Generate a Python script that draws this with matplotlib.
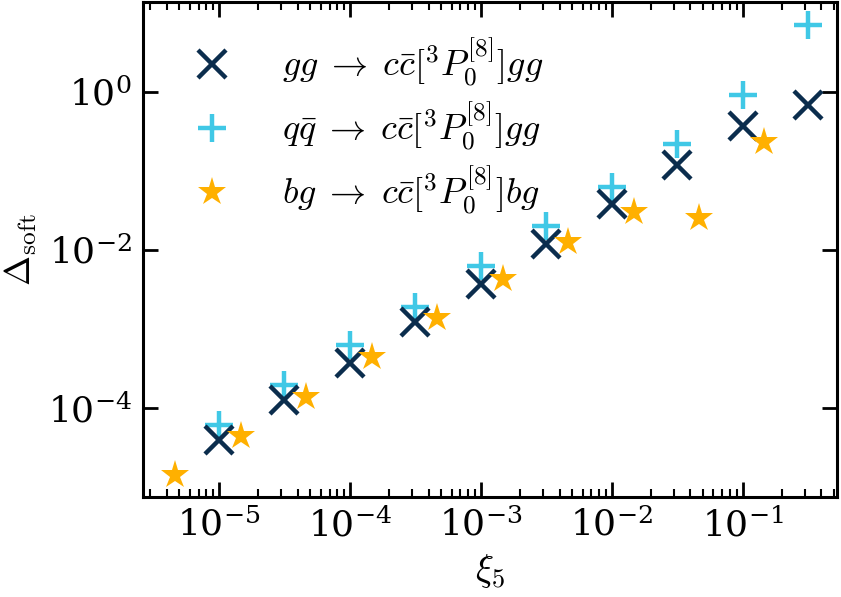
import matplotlib
matplotlib.use("Agg")
import matplotlib.pyplot as plt
from matplotlib.ticker import LogLocator, NullLocator, NullFormatter, FixedLocator

plt.rcParams['mathtext.fontset'] = 'cm'
plt.rcParams['font.family'] = ['DejaVu Serif']
plt.rcParams['axes.unicode_minus'] = False

# x values
xi_main = [1e-5, 3.16e-5, 1e-4, 3.16e-4, 1e-3, 3.16e-3, 1e-2, 3.16e-2, 1e-1, 3.16e-1]
xi_bg = [4.64e-6, 1.47e-5, 4.64e-5, 1.47e-4, 4.64e-4, 1.47e-3, 4.64e-3, 1.47e-2, 4.64e-2, 1.47e-1]

# series
gg_vals = [3.9e-5, 1.26e-4, 3.7e-4, 1.23e-3, 3.7e-3, 1.2e-2, 3.8e-2, 0.12, 0.37, 0.69]
qq_vals = [6.0e-5, 1.95e-4, 6.3e-4, 1.9e-3, 6.3e-3, 2.0e-2, 6.3e-2, 0.22, 0.91, 7.0]
bg_vals = [1.4e-5, 4.4e-5, 1.38e-4, 4.4e-4, 1.38e-3, 4.3e-3, 1.26e-2, 3.0e-2, 2.55e-2, 0.23]

# tick positions
x_ticks = [1e-5, 1e-4, 1e-3, 1e-2, 1e-1]
y_ticks = [1e-4, 1e-2, 1e0]

labels = [r'$gg\;\rightarrow\;c\bar{c}[^3P_0^{[8]}]gg$',
          r'$q\bar{q}\;\rightarrow\;c\bar{c}[^3P_0^{[8]}]gg$',
          r'$bg\;\rightarrow\;c\bar{c}[^3P_0^{[8]}]bg$']

c_gg = '#0b2d4d'
c_qq = '#40c8e6'
c_bg = '#ffb000'

fig = plt.figure(figsize=(8.41, 5.97), dpi=100)
ax = fig.add_axes([0.170, 0.1675, 0.825, 0.829])

ax.plot(xi_main, gg_vals, linestyle='none', marker='x', ms=20, mew=3.2,
        color=c_gg, label=labels[0], zorder=3)
ax.plot(xi_main, qq_vals, linestyle='none', marker='+', ms=20, mew=3.2,
        color=c_qq, label=labels[1], zorder=2)
ax.plot(xi_bg, bg_vals, linestyle='none', marker='*', ms=21, mew=0,
        color=c_bg, label=labels[2], zorder=4)

ax.set_xscale('log')
ax.set_yscale('log')
ax.set_xlim(10**-5.58, 10**-0.28)
ax.set_ylim(10**-5.13, 10**1.14)

ax.yaxis.set_major_locator(FixedLocator(y_ticks))
ax.yaxis.set_minor_locator(NullLocator())
ax.xaxis.set_major_locator(FixedLocator(x_ticks))
ax.xaxis.set_minor_locator(LogLocator(base=10.0, subs=range(2, 10), numticks=50))
ax.xaxis.set_minor_formatter(NullFormatter())

ax.tick_params(which='both', direction='in', top=True, right=True, labelsize=26)
ax.tick_params(which='major', length=11, width=2)
ax.tick_params(which='minor', length=6, width=1.5)
ax.tick_params(axis='x', which='major', pad=8)
ax.tick_params(axis='y', which='major', pad=8)
for s in ax.spines.values():
    s.set_linewidth(2.2)

ax.set_xlabel(r'$\xi_5$', fontsize=27, labelpad=6)
ax.set_ylabel(r'$\Delta_{\rm soft}$', fontsize=26, labelpad=6)

ax.legend(loc='upper left', frameon=False, fontsize=26, handletextpad=1.0,
          labelspacing=0.3, borderaxespad=0.45, borderpad=0.5, handlelength=1.9)

fig.savefig('out.png', dpi=100)
